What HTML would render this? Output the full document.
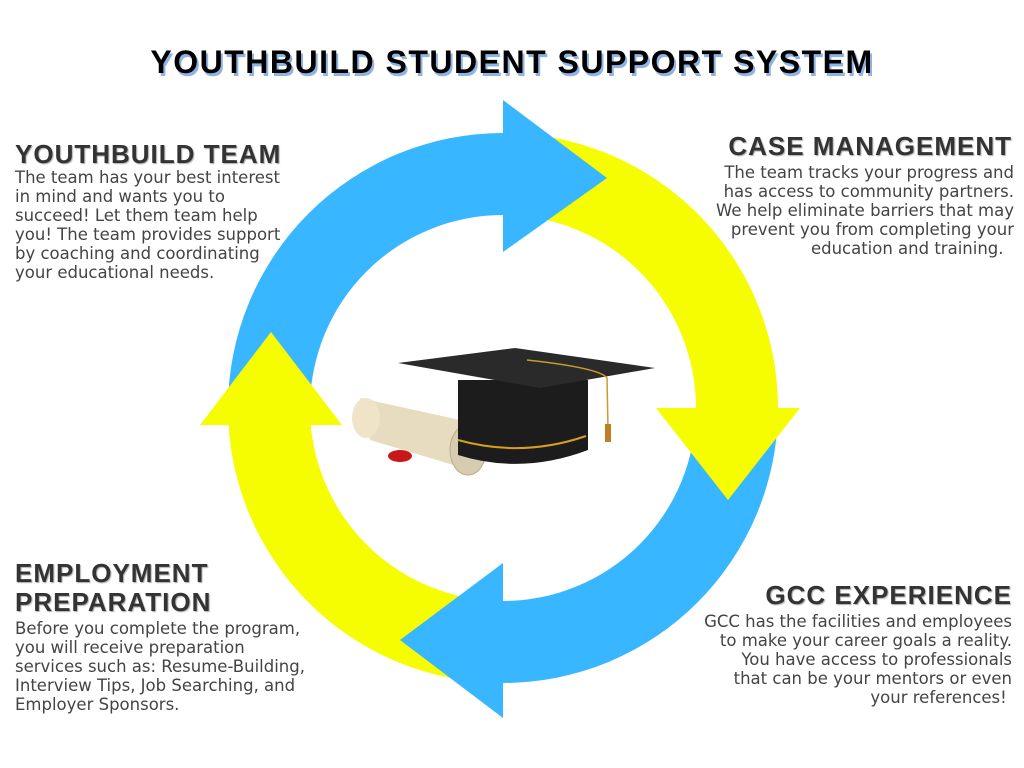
<!DOCTYPE html>
<html><head><meta charset="utf-8"><style>
body{margin:0;width:1024px;height:768px;background:#fff;position:relative;overflow:hidden;font-family:"Liberation Sans",sans-serif}
.t{position:absolute;left:0;width:1024px;top:44px;text-align:center;font-weight:bold;font-size:32px;letter-spacing:1.5px;color:#000;text-shadow:2px 3px 0 #8fb3e3}
.h{position:absolute;font-weight:bold;font-size:26px;letter-spacing:1px;color:#333;line-height:29px;text-shadow:1px 1px 1px #aaa}
.b{position:absolute;font-family:"DejaVu Sans",sans-serif;font-size:16.5px;line-height:19px;color:#444}
.r{text-align:right}
</style></head><body>
<svg width="1024" height="768" style="position:absolute;left:0;top:0">
<path d="M228,408 A275,275 0 0 1 503,133 L503,215 A193,193 0 0 0 310,408 Z" fill="#38b6ff"/>
<path d="M503,133 A275,275 0 0 1 778,408 L696,408 A193,193 0 0 0 503,215 Z" fill="#f5fd00"/>
<path d="M778,408 A275,275 0 0 1 503,683 L503,601 A193,193 0 0 0 696,408 Z" fill="#38b6ff"/>
<path d="M503,683 A275,275 0 0 1 228,408 L310,408 A193,193 0 0 0 503,601 Z" fill="#f5fd00"/>
<polygon points="503,100 503,252 607,178" fill="#38b6ff"/>
<polygon points="656,408 800,408 728,500" fill="#f5fd00"/>
<polygon points="503,563 503,718 400,640" fill="#38b6ff"/>
<polygon points="200,425 342,425 271,332" fill="#f5fd00"/>
<path d="M360,398 L460,420 L470,470 L370,440 Z" fill="#e8dcc0"/>
<ellipse cx="366" cy="418" rx="14" ry="20" fill="#efe3c8"/>
<ellipse cx="468" cy="450" rx="18" ry="25" fill="#d8ccb0" stroke="#b8aa8a"/>
<ellipse cx="400" cy="456" rx="12" ry="6" fill="#c81818"/>
<path d="M458,380 L588,380 L588,450 Q522,475 458,455 Z" fill="#1c1c1c"/>
<path d="M458,440 Q522,458 586,436" stroke="#d4a020" stroke-width="2" fill="none"/>
<polygon points="398,363 515,348 655,368 540,388" fill="#2a2a2a"/>
<path d="M527,360 Q600,368 607,378 L608,428" stroke="#c89a30" stroke-width="1.5" fill="none"/>
<rect x="605" y="424" width="6" height="18" fill="#c08020"/>
</svg>
<div class="t">YOUTHBUILD STUDENT SUPPORT SYSTEM</div>
<div class="h" style="left:15px;top:140px">YOUTHBUILD TEAM</div>
<div class="b" style="left:15px;top:168px">The team has your best interest<br>in mind and wants you to<br>succeed! Let them team help<br>you! The team provides support<br>by coaching and coordinating<br>your educational needs.</div>
<div class="h r" style="right:12px;top:132px">CASE MANAGEMENT</div>
<div class="b r" style="right:10px;top:163px">The team tracks your progress and<br>has access to community partners.<br>We help eliminate barriers that may<br>prevent you from completing your<br>education and training.&nbsp;&nbsp;</div>
<div class="h" style="left:15px;top:559px">EMPLOYMENT<br>PREPARATION</div>
<div class="b" style="left:15px;top:619px">Before you complete the program,<br>you will receive preparation<br>services such as: Resume-Building,<br>Interview Tips, Job Searching, and<br>Employer Sponsors.</div>
<div class="h r" style="right:12px;top:581px">GCC EXPERIENCE</div>
<div class="b r" style="right:12px;top:612px">GCC has the facilities and employees<br>to make your career goals a reality.<br>You have access to professionals<br>that can be your mentors or even<br>your references!&nbsp;</div>
</body></html>
